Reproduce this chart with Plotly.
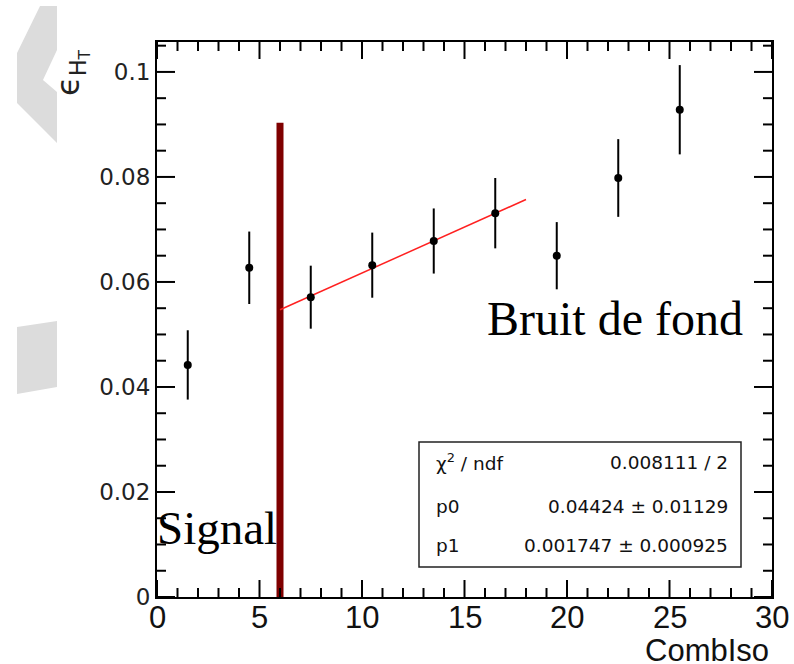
import plotly.graph_objects as go

# ---- data ----
bin_centers = [1.5, 4.5, 7.5, 10.5, 13.5, 16.5, 19.5, 22.5, 25.5]
eff_values = [0.0442, 0.0627, 0.0571, 0.0632, 0.0678, 0.0731, 0.0650, 0.0798, 0.0928]
eff_errors = [0.0066, 0.0069, 0.0060, 0.0062, 0.0062, 0.0067, 0.0064, 0.0074, 0.0085]

fit_x = [6.0, 18.0]
fit_y = [0.0547, 0.0757]

cut_x = [6.0, 6.0]
cut_y = [0.0, 0.0903]

stats_labels = ["χ<sup>2</sup> / ndf", "p0", "p1"]
stats_values = ["0.008111 / 2", "0.04424 ± 0.01129", "0.001747 ± 0.000925"]

x_ticks = [0, 5, 10, 15, 20, 25, 30]
y_ticks = [0, 0.02, 0.04, 0.06, 0.08, 0.1]
x_minor_per_major = 5
y_minor_per_major = 4
y_max = 0.1057

# ---- geometry (pixels) ----
W, H = 794, 664
L, R, T, B = 157, 772, 42, 597
X_MAJ, X_MIN, Y_MAJ, Y_MIN = 17, 9, 18, 9


def px(x):
    return (x - L) / (R - L)


def py(y):
    return (B - y) / (B - T)


fig = go.Figure()

fig.add_trace(go.Scatter(
    x=cut_x, y=cut_y, mode="lines",
    line=dict(color="#7f0000", width=7), hoverinfo="skip", showlegend=False))

fig.add_trace(go.Scatter(
    x=fit_x, y=fit_y, mode="lines",
    line=dict(color="#ff2020", width=1.5), showlegend=False))

fig.add_trace(go.Scatter(
    x=bin_centers, y=eff_values, mode="markers",
    marker=dict(color="black", size=8),
    error_y=dict(type="data", array=eff_errors, visible=True,
                 color="black", thickness=2, width=0),
    showlegend=False))

axis_common = dict(
    showgrid=False, zeroline=False,
    showline=True, linecolor="black", linewidth=2, mirror=True,
    ticks="", tickmode="array",
)

x_lo, x_hi = x_ticks[0], x_ticks[-1]
fig.update_xaxes(range=[x_lo, x_hi], tickvals=x_ticks, showticklabels=False,
                 **axis_common)
fig.update_yaxes(
    range=[0, y_max], tickvals=y_ticks, ticktext=[f"{v:g}" for v in y_ticks],
    tickfont=dict(family="DejaVu Sans", size=23, color="#222"),
    **axis_common)

shapes = []
tick_line = dict(color="black", width=2)

# x ticks (bottom and top), major + minor, derived from the tick list
x_step = (x_ticks[1] - x_ticks[0]) / x_minor_per_major
n_x = int(round((x_hi - x_lo) / x_step))
for i in range(n_x + 1):
    xv = x_lo + i * x_step
    ln = X_MAJ if i % x_minor_per_major == 0 else X_MIN
    shapes.append(dict(type="line", xref="x", yref="y", ysizemode="pixel", yanchor=0,
                       x0=xv, x1=xv, y0=0, y1=ln, line=tick_line))
    shapes.append(dict(type="line", xref="x", yref="y", ysizemode="pixel", yanchor=y_max,
                       x0=xv, x1=xv, y0=0, y1=-ln, line=tick_line))

# y ticks (left and right)
y_step = (y_ticks[1] - y_ticks[0]) / y_minor_per_major
n_y = int(y_max / y_step + 1e-9)
for i in range(n_y + 1):
    yv = i * y_step
    ln = Y_MAJ if i % y_minor_per_major == 0 else Y_MIN
    shapes.append(dict(type="line", xref="x", yref="y", xsizemode="pixel", xanchor=x_lo,
                       x0=0, x1=ln, y0=yv, y1=yv, line=tick_line))
    shapes.append(dict(type="line", xref="x", yref="y", xsizemode="pixel", xanchor=x_hi,
                       x0=0, x1=-ln, y0=yv, y1=yv, line=tick_line))

# grey decorative polygons on the left
poly1 = [(40, 6), (57, 6), (57, 50), (43, 80), (57, 92), (57, 143), (17, 103), (17, 53)]
poly2 = [(17, 327), (57, 321), (57, 387), (17, 394)]
for poly in (poly1, poly2):
    path = "M " + " L ".join(f"{px(a):.4f},{py(b):.4f}" for a, b in poly) + " Z"
    shapes.append(dict(type="path", xref="paper", yref="paper", path=path,
                       fillcolor="#dcdcdc", line=dict(width=0), layer="below"))

# stats box
shapes.append(dict(type="rect", xref="paper", yref="paper",
                   x0=px(419), x1=px(741), y0=py(567), y1=py(442),
                   fillcolor="white", line=dict(color="#222", width=1.5)))

annotations = []
# x tick labels
for v in x_ticks:
    annotations.append(dict(xref="x", yref="paper", x=v, y=py(617),
                            text=str(v), showarrow=False, xanchor="center", yanchor="middle",
                            font=dict(family="Liberation Sans", size=31, color="#111")))

row_y = [462, 506, 545]
for lab, val, yy in zip(stats_labels, stats_values, row_y):
    annotations.append(dict(xref="paper", yref="paper", x=px(434), y=py(yy),
                            text=lab, showarrow=False, xanchor="left", yanchor="middle",
                            font=dict(family="DejaVu Sans", size=18.5, color="#111")))
    annotations.append(dict(xref="paper", yref="paper", x=px(730), y=py(yy),
                            text=val, showarrow=False, xanchor="right", yanchor="middle",
                            font=dict(family="DejaVu Sans", size=18.5, color="#111")))

# y-axis title
annotations.append(dict(xref="paper", yref="paper", x=px(71), y=py(73),
                        text="ϵ<sub>H<sub>T</sub></sub>", textangle=-90, showarrow=False,
                        xanchor="center", yanchor="middle",
                        font=dict(family="DejaVu Sans", size=32, color="#222")))
# x-axis title
annotations.append(dict(xref="paper", yref="paper", x=px(771), y=py(650),
                        text="CombIso", showarrow=False, xanchor="right", yanchor="middle",
                        font=dict(family="Liberation Sans", size=31, color="#111")))
# region labels
annotations.append(dict(xref="paper", yref="paper", x=px(155), y=py(528),
                        text="Signal", showarrow=False, xanchor="left", yanchor="middle",
                        font=dict(family="Liberation Serif", size=47, color="black")))
annotations.append(dict(xref="paper", yref="paper", x=px(485), y=py(318),
                        text="Bruit de fond", showarrow=False, xanchor="left", yanchor="middle",
                        font=dict(family="Liberation Serif", size=48, color="black")))

fig.update_layout(
    width=W, height=H,
    margin=dict(l=L, r=W - R, t=T, b=H - B),
    paper_bgcolor="white", plot_bgcolor="white",
    shapes=shapes, annotations=annotations,
)

fig.write_html("out.html")
